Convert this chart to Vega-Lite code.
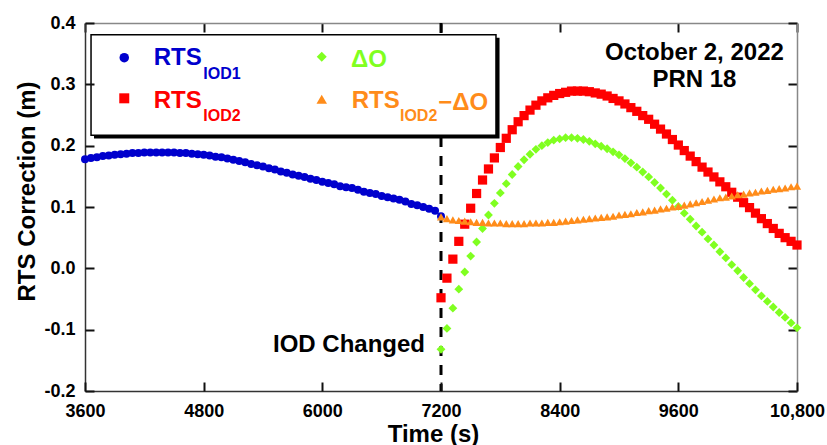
{
"$schema": "https://vega.github.io/schema/vega-lite/v6.json",
"width": 712, "height": 368,
"autosize": {"type": "none"},
"padding": {"left": 85, "top": 23, "right": 30, "bottom": 54},
"background": "white",
"config": {"view": {"stroke": null}, "font": "Liberation Sans", "axis": {"grid": false, "labelFont": "Liberation Sans", "titleFont": "Liberation Sans", "labelColor": "black", "titleColor": "black"}},
"datasets": {"pts": [
{"s":"b","t":3600,"v":0.178},{"s":"b","t":3660,"v":0.180},{"s":"b","t":3720,"v":0.181},{"s":"b","t":3780,"v":0.183},{"s":"b","t":3840,"v":0.184},{"s":"b","t":3900,"v":0.185},{"s":"b","t":3960,"v":0.186},{"s":"b","t":4020,"v":0.187},{"s":"b","t":4080,"v":0.188},{"s":"b","t":4140,"v":0.188},{"s":"b","t":4200,"v":0.189},{"s":"b","t":4260,"v":0.189},{"s":"b","t":4320,"v":0.189},{"s":"b","t":4380,"v":0.189},{"s":"b","t":4440,"v":0.189},{"s":"b","t":4500,"v":0.189},{"s":"b","t":4560,"v":0.188},{"s":"b","t":4620,"v":0.188},{"s":"b","t":4680,"v":0.187},{"s":"b","t":4740,"v":0.186},{"s":"b","t":4800,"v":0.185},{"s":"b","t":4860,"v":0.184},{"s":"b","t":4920,"v":0.182},{"s":"b","t":4980,"v":0.181},{"s":"b","t":5040,"v":0.179},{"s":"b","t":5100,"v":0.177},{"s":"b","t":5160,"v":0.175},{"s":"b","t":5220,"v":0.173},{"s":"b","t":5280,"v":0.170},{"s":"b","t":5340,"v":0.168},{"s":"b","t":5400,"v":0.166},{"s":"b","t":5460,"v":0.163},{"s":"b","t":5520,"v":0.161},{"s":"b","t":5580,"v":0.158},{"s":"b","t":5640,"v":0.156},{"s":"b","t":5700,"v":0.153},{"s":"b","t":5760,"v":0.151},{"s":"b","t":5820,"v":0.149},{"s":"b","t":5880,"v":0.146},{"s":"b","t":5940,"v":0.144},{"s":"b","t":6000,"v":0.141},{"s":"b","t":6060,"v":0.139},{"s":"b","t":6120,"v":0.137},{"s":"b","t":6180,"v":0.134},{"s":"b","t":6240,"v":0.132},{"s":"b","t":6300,"v":0.131},{"s":"b","t":6360,"v":0.128},{"s":"b","t":6420,"v":0.125},{"s":"b","t":6480,"v":0.123},{"s":"b","t":6540,"v":0.121},{"s":"b","t":6600,"v":0.118},{"s":"b","t":6660,"v":0.116},{"s":"b","t":6720,"v":0.114},{"s":"b","t":6780,"v":0.112},{"s":"b","t":6840,"v":0.109},{"s":"b","t":6900,"v":0.105},{"s":"b","t":6960,"v":0.103},{"s":"b","t":7020,"v":0.100},{"s":"b","t":7080,"v":0.097},{"s":"b","t":7140,"v":0.094},{"s":"b","t":7200,"v":0.085},
{"s":"r","t":7200,"v":-0.048},{"s":"r","t":7260,"v":-0.016},{"s":"r","t":7320,"v":0.015},{"s":"r","t":7380,"v":0.044},{"s":"r","t":7440,"v":0.072},{"s":"r","t":7500,"v":0.098},{"s":"r","t":7560,"v":0.122},{"s":"r","t":7620,"v":0.144},{"s":"r","t":7680,"v":0.162},{"s":"r","t":7740,"v":0.180},{"s":"r","t":7800,"v":0.197},{"s":"r","t":7860,"v":0.212},{"s":"r","t":7920,"v":0.226},{"s":"r","t":7980,"v":0.239},{"s":"r","t":8040,"v":0.249},{"s":"r","t":8100,"v":0.258},{"s":"r","t":8160,"v":0.266},{"s":"r","t":8220,"v":0.273},{"s":"r","t":8280,"v":0.278},{"s":"r","t":8340,"v":0.282},{"s":"r","t":8400,"v":0.285},{"s":"r","t":8460,"v":0.287},{"s":"r","t":8520,"v":0.289},{"s":"r","t":8580,"v":0.289},{"s":"r","t":8640,"v":0.289},{"s":"r","t":8700,"v":0.288},{"s":"r","t":8760,"v":0.286},{"s":"r","t":8820,"v":0.284},{"s":"r","t":8880,"v":0.281},{"s":"r","t":8940,"v":0.277},{"s":"r","t":9000,"v":0.273},{"s":"r","t":9060,"v":0.268},{"s":"r","t":9120,"v":0.262},{"s":"r","t":9180,"v":0.256},{"s":"r","t":9240,"v":0.249},{"s":"r","t":9300,"v":0.243},{"s":"r","t":9360,"v":0.235},{"s":"r","t":9420,"v":0.227},{"s":"r","t":9480,"v":0.219},{"s":"r","t":9540,"v":0.210},{"s":"r","t":9600,"v":0.201},{"s":"r","t":9660,"v":0.192},{"s":"r","t":9720,"v":0.183},{"s":"r","t":9780,"v":0.174},{"s":"r","t":9840,"v":0.165},{"s":"r","t":9900,"v":0.157},{"s":"r","t":9960,"v":0.149},{"s":"r","t":10020,"v":0.141},{"s":"r","t":10080,"v":0.133},{"s":"r","t":10140,"v":0.124},{"s":"r","t":10200,"v":0.116},{"s":"r","t":10260,"v":0.107},{"s":"r","t":10320,"v":0.099},{"s":"r","t":10380,"v":0.090},{"s":"r","t":10440,"v":0.081},{"s":"r","t":10500,"v":0.073},{"s":"r","t":10560,"v":0.065},{"s":"r","t":10620,"v":0.057},{"s":"r","t":10680,"v":0.050},{"s":"r","t":10740,"v":0.044},{"s":"r","t":10800,"v":0.038},
{"s":"g","t":7200,"v":-0.132},{"s":"g","t":7260,"v":-0.098},{"s":"g","t":7320,"v":-0.065},{"s":"g","t":7380,"v":-0.034},{"s":"g","t":7440,"v":-0.006},{"s":"g","t":7500,"v":0.020},{"s":"g","t":7560,"v":0.043},{"s":"g","t":7620,"v":0.065},{"s":"g","t":7680,"v":0.087},{"s":"g","t":7740,"v":0.106},{"s":"g","t":7800,"v":0.123},{"s":"g","t":7860,"v":0.138},{"s":"g","t":7920,"v":0.153},{"s":"g","t":7980,"v":0.166},{"s":"g","t":8040,"v":0.177},{"s":"g","t":8100,"v":0.186},{"s":"g","t":8160,"v":0.194},{"s":"g","t":8220,"v":0.200},{"s":"g","t":8280,"v":0.205},{"s":"g","t":8340,"v":0.209},{"s":"g","t":8400,"v":0.211},{"s":"g","t":8460,"v":0.213},{"s":"g","t":8520,"v":0.213},{"s":"g","t":8580,"v":0.212},{"s":"g","t":8640,"v":0.210},{"s":"g","t":8700,"v":0.207},{"s":"g","t":8760,"v":0.203},{"s":"g","t":8820,"v":0.199},{"s":"g","t":8880,"v":0.195},{"s":"g","t":8940,"v":0.190},{"s":"g","t":9000,"v":0.185},{"s":"g","t":9060,"v":0.179},{"s":"g","t":9120,"v":0.172},{"s":"g","t":9180,"v":0.165},{"s":"g","t":9240,"v":0.157},{"s":"g","t":9300,"v":0.149},{"s":"g","t":9360,"v":0.140},{"s":"g","t":9420,"v":0.131},{"s":"g","t":9480,"v":0.121},{"s":"g","t":9540,"v":0.111},{"s":"g","t":9600,"v":0.101},{"s":"g","t":9660,"v":0.090},{"s":"g","t":9720,"v":0.080},{"s":"g","t":9780,"v":0.069},{"s":"g","t":9840,"v":0.059},{"s":"g","t":9900,"v":0.048},{"s":"g","t":9960,"v":0.038},{"s":"g","t":10020,"v":0.027},{"s":"g","t":10080,"v":0.017},{"s":"g","t":10140,"v":0.006},{"s":"g","t":10200,"v":-0.004},{"s":"g","t":10260,"v":-0.015},{"s":"g","t":10320,"v":-0.025},{"s":"g","t":10380,"v":-0.035},{"s":"g","t":10440,"v":-0.045},{"s":"g","t":10500,"v":-0.054},{"s":"g","t":10560,"v":-0.063},{"s":"g","t":10620,"v":-0.072},{"s":"g","t":10680,"v":-0.080},{"s":"g","t":10740,"v":-0.089},{"s":"g","t":10800,"v":-0.097},
{"s":"o","t":7200,"v":0.084},{"s":"o","t":7260,"v":0.081},{"s":"o","t":7320,"v":0.079},{"s":"o","t":7380,"v":0.078},{"s":"o","t":7440,"v":0.077},{"s":"o","t":7500,"v":0.076},{"s":"o","t":7560,"v":0.075},{"s":"o","t":7620,"v":0.075},{"s":"o","t":7680,"v":0.074},{"s":"o","t":7740,"v":0.074},{"s":"o","t":7800,"v":0.074},{"s":"o","t":7860,"v":0.073},{"s":"o","t":7920,"v":0.073},{"s":"o","t":7980,"v":0.073},{"s":"o","t":8040,"v":0.073},{"s":"o","t":8100,"v":0.074},{"s":"o","t":8160,"v":0.074},{"s":"o","t":8220,"v":0.074},{"s":"o","t":8280,"v":0.075},{"s":"o","t":8340,"v":0.075},{"s":"o","t":8400,"v":0.076},{"s":"o","t":8460,"v":0.077},{"s":"o","t":8520,"v":0.078},{"s":"o","t":8580,"v":0.079},{"s":"o","t":8640,"v":0.080},{"s":"o","t":8700,"v":0.081},{"s":"o","t":8760,"v":0.082},{"s":"o","t":8820,"v":0.083},{"s":"o","t":8880,"v":0.084},{"s":"o","t":8940,"v":0.085},{"s":"o","t":9000,"v":0.087},{"s":"o","t":9060,"v":0.088},{"s":"o","t":9120,"v":0.089},{"s":"o","t":9180,"v":0.091},{"s":"o","t":9240,"v":0.092},{"s":"o","t":9300,"v":0.094},{"s":"o","t":9360,"v":0.095},{"s":"o","t":9420,"v":0.097},{"s":"o","t":9480,"v":0.098},{"s":"o","t":9540,"v":0.100},{"s":"o","t":9600,"v":0.101},{"s":"o","t":9660,"v":0.103},{"s":"o","t":9720,"v":0.105},{"s":"o","t":9780,"v":0.107},{"s":"o","t":9840,"v":0.109},{"s":"o","t":9900,"v":0.111},{"s":"o","t":9960,"v":0.113},{"s":"o","t":10020,"v":0.115},{"s":"o","t":10080,"v":0.116},{"s":"o","t":10140,"v":0.118},{"s":"o","t":10200,"v":0.120},{"s":"o","t":10260,"v":0.121},{"s":"o","t":10320,"v":0.123},{"s":"o","t":10380,"v":0.124},{"s":"o","t":10440,"v":0.126},{"s":"o","t":10500,"v":0.127},{"s":"o","t":10560,"v":0.129},{"s":"o","t":10620,"v":0.130},{"s":"o","t":10680,"v":0.131},{"s":"o","t":10740,"v":0.133},{"s":"o","t":10800,"v":0.134}
]},
"layer": [
{"data": {"values": [{}]}, "mark": {"type": "rule", "color": "black", "strokeWidth": 3, "strokeDash": [10, 9]},
 "encoding": {"x": {"datum": 7200, "type": "quantitative", "axis": null}}},
{"data": {"values": [{}]}, "mark": {"type": "rect", "color": "black"},
 "encoding": {"x": {"datum": 3691, "type": "quantitative", "axis": null}, "x2": {"datum": 7792}, "y": {"datum": 0.3759, "type": "quantitative", "axis": null}, "y2": {"datum": 0.2117}}},
{"data": {"values": [{}]}, "mark": {"type": "rect", "fill": "white", "stroke": "black", "strokeWidth": 1.5},
 "encoding": {"x": {"datum": 3661, "type": "quantitative", "axis": null}, "x2": {"datum": 7756}, "y": {"datum": 0.3808, "type": "quantitative", "axis": null}, "y2": {"datum": 0.2171}}},
{"data": {"name": "pts"}, "transform": [{"filter": "datum.s == 'b'"}],
 "mark": {"type": "point", "shape": "circle", "filled": true, "size": 64, "color": "#0000cd", "opacity": 1},
 "encoding": {
  "x": {"field": "t", "type": "quantitative", "scale": {"domain": [3600, 10800], "nice": false, "zero": false},
   "axis": {"orient": "bottom", "values": [3600, 4800, 6000, 7200, 8400, 9600, 10800], "labelExpr": "datum.value == 10800 ? '10,800' : format(datum.value, 'd')", "labelFontSize": 18, "labelFontWeight": "bold", "labelFlush": false, "labelOverlap": false, "labelPadding": 11, "labelBaseline": "top", "ticks": false, "domainColor": "#333", "domainWidth": 1.5, "title": "Time (s)", "titleFontSize": 24, "titleFontWeight": "bold", "titleX": 348, "titleY": 50, "titleBaseline": "alphabetic", "titleAlign": "center"}},
  "y": {"field": "v", "type": "quantitative", "scale": {"domain": [-0.2, 0.4], "nice": false, "zero": false},
   "axis": {"orient": "left", "values": [-0.2, -0.1, 0, 0.1, 0.2, 0.3, 0.4], "labelExpr": "datum.value < 0 ? '-' + format(-datum.value, '.1f') : format(datum.value, '.1f')", "labelFontSize": 18, "labelFontWeight": "bold", "labelFlush": false, "labelOverlap": false, "labelPadding": 10, "ticks": false, "domainColor": "#333", "domainWidth": 1.5, "title": "RTS Correction (m)", "titleFontSize": 24, "titleFontWeight": "bold", "titleX": -51, "titleY": 168, "titleBaseline": "alphabetic", "titleAlign": "center", "titleAngle": -90}}
 }},
{"data": {"name": "pts"}, "transform": [{"filter": "datum.s == 'r'"}],
 "mark": {"type": "point", "shape": "square", "filled": true, "size": 85, "color": "#ff0000", "opacity": 1},
 "encoding": {
  "x": {"field": "t", "type": "quantitative", "axis": {"orient": "top", "offset": -368, "values": [3600, 4800, 6000, 7200, 8400, 9600, 10800], "labels": false, "domain": false, "title": null, "ticks": true, "tickSize": 9, "tickWidth": 2, "tickColor": "#111", "zindex": 1}},
  "y": {"field": "v", "type": "quantitative", "axis": {"orient": "right", "offset": -712, "values": [-0.2, -0.1, 0, 0.1, 0.2, 0.3, 0.4], "labels": false, "domain": false, "title": null, "ticks": true, "tickSize": 9, "tickWidth": 2, "tickColor": "#111", "zindex": 1}}
 }},
{"data": {"name": "pts"}, "transform": [{"filter": "datum.s == 'g'"}],
 "mark": {"type": "point", "shape": "diamond", "filled": true, "size": 78, "color": "#80ff20", "opacity": 1},
 "encoding": {
  "x": {"field": "t", "type": "quantitative", "axis": {"orient": "bottom", "offset": -368, "values": [3600, 4800, 6000, 7200, 8400, 9600, 10800], "labels": false, "domain": true, "domainColor": "#888", "domainWidth": 1.5, "title": null, "ticks": true, "tickSize": 9, "tickWidth": 2, "tickColor": "#111"}},
  "y": {"field": "v", "type": "quantitative", "axis": {"orient": "left", "offset": -712, "values": [-0.2, -0.1, 0, 0.1, 0.2, 0.3, 0.4], "labels": false, "domain": true, "domainColor": "#888", "domainWidth": 1.5, "title": null, "ticks": true, "tickSize": 9, "tickWidth": 2, "tickColor": "#111"}}
 }},
{"data": {"name": "pts"}, "transform": [{"filter": "datum.s == 'o'"}],
 "mark": {"type": "point", "shape": "triangle-up", "filled": true, "size": 68, "color": "#ff8c1a", "opacity": 1},
 "encoding": {"x": {"field": "t", "type": "quantitative", "axis": null}, "y": {"field": "v", "type": "quantitative", "axis": null}}},
{"data": {"values": [{}]}, "mark": {"type": "point", "shape": "circle", "filled": true, "size": 90, "color": "#0000cd", "opacity": 1},
 "encoding": {"x": {"datum": 3997, "type": "quantitative", "axis": null}, "y": {"datum": 0.3434, "type": "quantitative", "axis": null}}},
{"data": {"values": [{}]}, "mark": {"type": "point", "shape": "square", "filled": true, "size": 100, "color": "#ff0000", "opacity": 1},
 "encoding": {"x": {"datum": 3997, "type": "quantitative", "axis": null}, "y": {"datum": 0.2772, "type": "quantitative", "axis": null}}},
{"data": {"values": [{}]}, "mark": {"type": "point", "shape": "diamond", "filled": true, "size": 100, "color": "#80ff20", "opacity": 1},
 "encoding": {"x": {"datum": 5994, "type": "quantitative", "axis": null}, "y": {"datum": 0.345, "type": "quantitative", "axis": null}}},
{"data": {"values": [{}]}, "mark": {"type": "point", "shape": "triangle-up", "filled": true, "size": 110, "color": "#ff8c1a", "opacity": 1},
 "encoding": {"x": {"datum": 5994, "type": "quantitative", "axis": null}, "y": {"datum": 0.2756, "type": "quantitative", "axis": null}}},
{"data": {"values": [{}]}, "mark": {"type": "text", "text": "RTS", "align": "left", "baseline": "alphabetic", "fontSize": 24, "fontWeight": "bold", "font": "Liberation Sans", "color": "#0000cd"},
 "encoding": {"x": {"datum": 4295, "type": "quantitative", "axis": null}, "y": {"datum": 0.3315, "type": "quantitative", "axis": null}}},
{"data": {"values": [{}]}, "mark": {"type": "text", "text": "IOD1", "align": "left", "baseline": "alphabetic", "fontSize": 16, "fontWeight": "bold", "font": "Liberation Sans", "color": "#0000cd"},
 "encoding": {"x": {"datum": 4796, "type": "quantitative", "axis": null}, "y": {"datum": 0.3091, "type": "quantitative", "axis": null}}},
{"data": {"values": [{}]}, "mark": {"type": "text", "text": "RTS", "align": "left", "baseline": "alphabetic", "fontSize": 24, "fontWeight": "bold", "font": "Liberation Sans", "color": "#ff0000"},
 "encoding": {"x": {"datum": 4295, "type": "quantitative", "axis": null}, "y": {"datum": 0.2609, "type": "quantitative", "axis": null}}},
{"data": {"values": [{}]}, "mark": {"type": "text", "text": "IOD2", "align": "left", "baseline": "alphabetic", "fontSize": 16, "fontWeight": "bold", "font": "Liberation Sans", "color": "#ff0000"},
 "encoding": {"x": {"datum": 4796, "type": "quantitative", "axis": null}, "y": {"datum": 0.2407, "type": "quantitative", "axis": null}}},
{"data": {"values": [{}]}, "mark": {"type": "text", "text": "ΔO", "align": "left", "baseline": "alphabetic", "fontSize": 24, "fontWeight": "bold", "font": "Liberation Sans", "color": "#80ff20"},
 "encoding": {"x": {"datum": 6290, "type": "quantitative", "axis": null}, "y": {"datum": 0.3287, "type": "quantitative", "axis": null}}},
{"data": {"values": [{}]}, "mark": {"type": "text", "text": "RTS", "align": "left", "baseline": "alphabetic", "fontSize": 24, "fontWeight": "bold", "font": "Liberation Sans", "color": "#ff8c1a"},
 "encoding": {"x": {"datum": 6297, "type": "quantitative", "axis": null}, "y": {"datum": 0.2609, "type": "quantitative", "axis": null}}},
{"data": {"values": [{}]}, "mark": {"type": "text", "text": "IOD2", "align": "left", "baseline": "alphabetic", "fontSize": 16, "fontWeight": "bold", "font": "Liberation Sans", "color": "#ff8c1a"},
 "encoding": {"x": {"datum": 6785, "type": "quantitative", "axis": null}, "y": {"datum": 0.2407, "type": "quantitative", "axis": null}}},
{"data": {"values": [{}]}, "mark": {"type": "text", "text": "−ΔO", "align": "left", "baseline": "alphabetic", "fontSize": 24, "fontWeight": "bold", "font": "Liberation Sans", "color": "#ff8c1a"},
 "encoding": {"x": {"datum": 7173, "type": "quantitative", "axis": null}, "y": {"datum": 0.2581, "type": "quantitative", "axis": null}}},
{"data": {"values": [{}]}, "mark": {"type": "text", "text": "October 2, 2022", "align": "center", "baseline": "alphabetic", "fontSize": 24, "fontWeight": "bold", "font": "Liberation Sans", "color": "black"},
 "encoding": {"x": {"datum": 9763, "type": "quantitative", "axis": null}, "y": {"datum": 0.3403, "type": "quantitative", "axis": null}}},
{"data": {"values": [{}]}, "mark": {"type": "text", "text": "PRN 18", "align": "center", "baseline": "alphabetic", "fontSize": 24, "fontWeight": "bold", "font": "Liberation Sans", "color": "black"},
 "encoding": {"x": {"datum": 9763, "type": "quantitative", "axis": null}, "y": {"datum": 0.2951, "type": "quantitative", "axis": null}}},
{"data": {"values": [{}]}, "mark": {"type": "text", "text": "IOD Changed", "align": "right", "baseline": "alphabetic", "fontSize": 24, "fontWeight": "bold", "font": "Liberation Sans", "color": "black"},
 "encoding": {"x": {"datum": 7038, "type": "quantitative", "axis": null}, "y": {"datum": -0.136, "type": "quantitative", "axis": null}}}
]
}
